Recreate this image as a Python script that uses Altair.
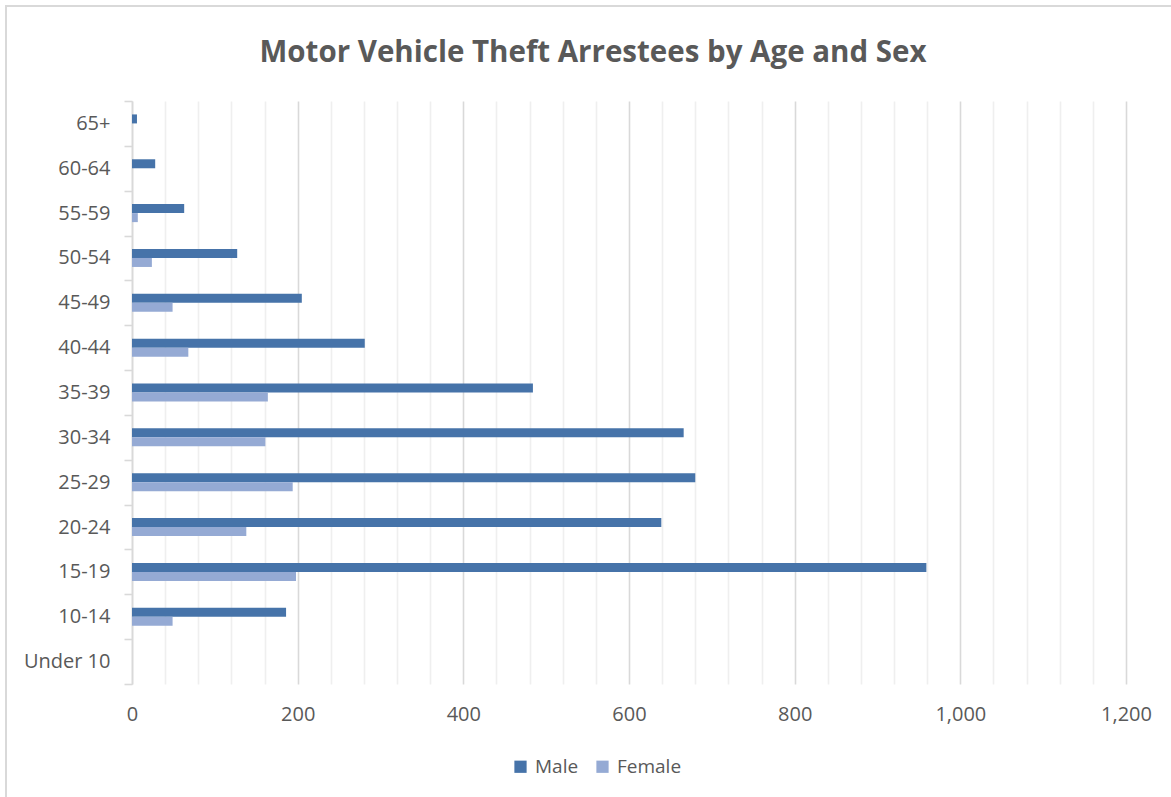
import altair as alt
import pandas as pd

# Arrestee counts per age group
ages = ["Under 10", "10-14", "15-19", "20-24", "25-29", "30-34", "35-39",
        "40-44", "45-49", "50-54", "55-59", "60-64", "65+"]
male = [0, 186, 959, 639, 680, 666, 484, 281, 205, 127, 63, 28, 6]
female = [0, 49, 198, 138, 194, 161, 164, 68, 49, 24, 7, 0, 0]
sexes = ["Male", "Female"]
colors = ["#4673a9", "#95aad4"]
x_ticks = list(range(0, 1201, 40))

rows = []
for a, m, f in zip(ages, male, female):
    rows.append({"age": a, "sex": "Male", "count": m})
    rows.append({"age": a, "sex": "Female", "count": f})
df = pd.DataFrame(rows)

TEXT = "#595959"
FONT = "Open Sans"
W, H = 994, 583
PAD_L, PAD_T = 132, 101
STEP = H / len(ages)
GROUP = 18  # pixel height of a male+female pair

bars = alt.Chart(df).mark_bar().encode(
    x=alt.X(
        "count:Q",
        scale=alt.Scale(domain=[0, 1200], nice=False),
        axis=alt.Axis(
            title=None,
            values=x_ticks,
            labelExpr="datum.value % 200 === 0 ? format(datum.value, ',') : ''",
            labelFlush=False,
            domain=False,
            ticks=False,
            labelPadding=20,
            gridColor={"condition": {"test": "datum.value % 200 === 0", "value": "#d9d9d9"},
                       "value": "#efefef"},
            gridWidth=1.6,
        ),
    ),
    y=alt.Y(
        "age:N",
        sort=ages[::-1],
        scale=alt.Scale(paddingInner=0, paddingOuter=0),
        axis=alt.Axis(
            title=None,
            grid=False,
            domainColor="#d9d9d9",
            domainWidth=1.6,
            tickColor="#d9d9d9",
            tickWidth=1.6,
            tickSize=8,
            tickBand="extent",
            labelPadding=14,
        ),
    ),
    # the two bars of a group sit together in the middle of each age band
    yOffset=alt.YOffset(
        "sex:N", sort=sexes,
        scale=alt.Scale(paddingInner=0, paddingOuter=0,
                        range=[(STEP - GROUP) / 2, (STEP + GROUP) / 2]),
    ),
    color=alt.Color(
        "sex:N",
        sort=sexes,
        scale=alt.Scale(domain=sexes, range=colors),
        legend=alt.Legend(
            title=None,
            orient="none",
            direction="horizontal",
            legendX=379,
            legendY=656,
            symbolType="square",
            symbolSize=150,
            symbolStrokeWidth=0,
            columnPadding=14,
            labelOffset=5,
            labelFontSize=19,
            labelColor=TEXT,
            labelFont=FONT,
        ),
    ),
)

# light frame around the whole figure
frame = alt.Chart(alt.Data(values=[{}])).mark_rect(
    fill=None, stroke="#d9d9d9", strokeWidth=2
).encode(
    x=alt.value(-126),
    x2=alt.value(1171 - PAD_L + 20),
    y=alt.value(-95),
    y2=alt.value(797 - PAD_T + 20),
)

chart = alt.layer(frame, bars).properties(
    width=W,
    height=H,
    background="white",
    autosize=alt.AutoSizeParams(type="none"),
    padding={"left": PAD_L, "top": PAD_T, "right": 1171 - PAD_L - W, "bottom": 797 - PAD_T - H},
    title=alt.TitleParams(
        "Motor Vehicle Theft Arrestees by Age and Sex",
        fontSize=29.5,
        font=FONT,
        fontWeight="bold",
        color=TEXT,
        frame="group",
        offset=0,
        dy=63,
        dx=-36,
    ),
).configure_view(stroke=None).configure_axis(
    labelFont=FONT,
    labelFontSize=20,
    labelColor=TEXT,
)

chart.save("out.html", embed_options={"renderer": "svg", "actions": False})
